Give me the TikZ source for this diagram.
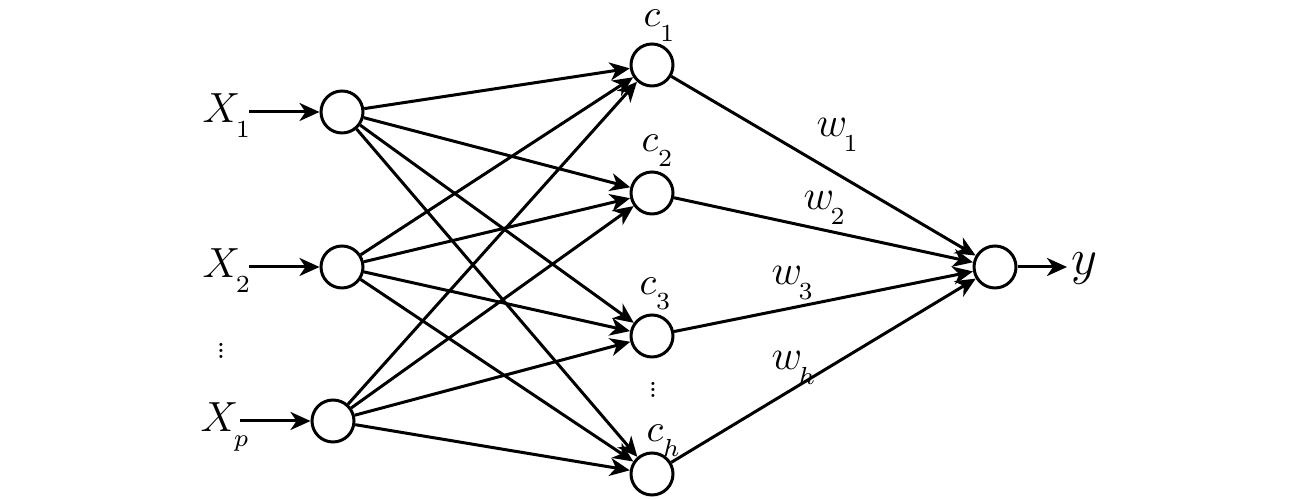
\documentclass[tikz,border=0pt]{standalone}
\usetikzlibrary{arrows.meta}
\newcommand{\lbl}[2]{$#1$\raisebox{-4.2pt}{\fontsize{7.5}{8}\selectfont$#2$}}
\newcommand{\vdts}{\vbox{\baselineskip=1.8pt\lineskiplimit=0pt\hbox{.}\hbox{.}\hbox{.}}}
\tikzset{
    %Define standard arrow tip
    >={Stealth[length=2mm,width=1.8mm,inset=0.6mm]},
    %Define style for neurons
    neuron/.style={
           circle,
           draw=black, line width=0.3mm,
           minimum size=4.2mm,
           inner sep=0pt},
    % Define style for labels
    lab/.style={
           inner sep=0pt,
           anchor=base west,
           font=\fontsize{12}{14}\selectfont},
    dts/.style={
           inner sep=0pt,
           font=\fontsize{8}{2}\selectfont}
}
\begin{document}
\begin{tikzpicture}[->,x=0.1mm,y=-0.1mm,line width=0.3mm]
\useasboundingbox (0,0) rectangle (1298,500);
% input layer
\node[neuron](I1) at (342,112){};
\node[neuron](I2) at (342,267){};
\node[neuron](I3) at (333,421){};
% hidden layer
\node[neuron](H1) at (652,65){};
\node[neuron](H2) at (652,193){};
\node[neuron](H3) at (652,336){};
\node[neuron](H4) at (652,474){};
% output
\node[neuron](O) at (995,267){};
% labels
\node[lab](x1) at (201,123){\lbl{X\kern-1.2pt}{1}};
\node[lab](x2) at (201,278){\lbl{X\kern-1.2pt}{2}};
\node[lab](xp) at (199,432){\lbl{X\kern-1.2pt}{p}};
\node[dts](d1) at (221,351){\vdts};
\node[lab,font=\fontsize{11}{13}\selectfont](c1) at (642,27){\lbl{c}{1}};
\node[lab,font=\fontsize{11}{13}\selectfont](c2) at (640,152){\lbl{c}{2}};
\node[lab,font=\fontsize{11}{13}\selectfont](c3) at (638,295){\lbl{c}{3}};
\node[dts](d2) at (653,390){\vdts};
\node[lab,font=\fontsize{11}{13}\selectfont](ch) at (645,442){\lbl{c}{h}};
\node[lab](w1) at (815,137){\lbl{w\kern-1pt}{1}};
\node[lab](w2) at (802,210){\lbl{w\kern-1pt}{2}};
\node[lab](w3) at (770,285){\lbl{w\kern-1pt}{3}};
\node[lab](wh) at (770,370){\lbl{w\kern-1pt}{h}};
\node[lab,font=\fontsize{14}{16}\selectfont](y) at (1070,275){$y$};
% free ends
\coordinate (s1) at (249,112);
\coordinate (s2) at (249,267);
\coordinate (s3) at (240,421);
\coordinate (t) at (1067,267);
\path[]
	(s1) edge (I1)
	(s2) edge (I2)
	(s3) edge (I3)
	(I1) edge (H1) edge (H2) edge (H3) edge (H4)
	(I2) edge (H1) edge (H2) edge (H3) edge (H4)
	(I3) edge (H1) edge (H2) edge (H3) edge (H4)
	(H1) edge (O)
	(H2) edge (O)
	(H3) edge (O)
	(H4) edge (O)
	(O) edge (t);
\end{tikzpicture}
\end{document}
